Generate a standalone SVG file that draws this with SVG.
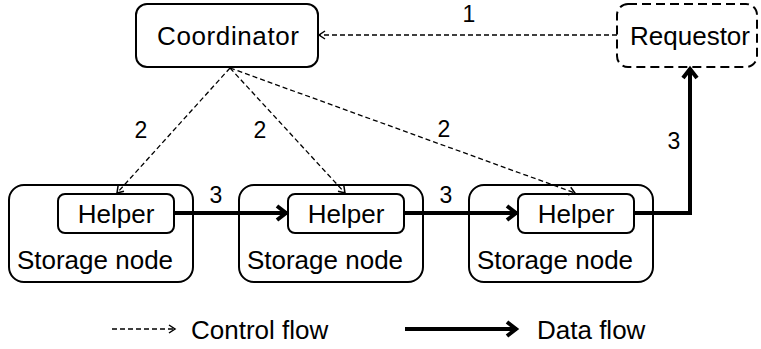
<svg xmlns="http://www.w3.org/2000/svg" width="761" height="349" viewBox="0 0 761 349">
<style>
text{font-family:"Liberation Sans",Arial,sans-serif;fill:#000}
.big{font-size:26px}
.num{font-size:23px}
.box{fill:#fff;stroke:#000;stroke-width:2}
.ctl{fill:none;stroke:#000;stroke-width:1.3;stroke-dasharray:5 3}
.dat{fill:none;stroke:#000;stroke-width:4}
</style>
<defs>
<marker id="ah-c" markerWidth="10" markerHeight="10" refX="8" refY="5" orient="auto" markerUnits="userSpaceOnUse">
<path d="M2,1 L8,5 L2,9" fill="none" stroke="#000" stroke-width="1.5"/>
</marker>
<marker id="ah-d" markerWidth="20" markerHeight="20" refX="14" refY="10" orient="auto" markerUnits="userSpaceOnUse">
<path d="M4,3 L13,10 L4,17" fill="none" stroke="#000" stroke-width="4"/>
</marker>
</defs>
<g id="coordinator">
<rect class="box" x="136" y="4" width="182" height="63" rx="11"/>
<text class="big" x="157" y="45" textLength="142" lengthAdjust="spacing">Coordinator</text>
</g>
<g id="requestor">
<rect x="617" y="4" width="140" height="63" rx="11" fill="#fff" stroke="#000" stroke-width="2" stroke-dasharray="9 5"/>
<text class="big" x="690" y="45" text-anchor="middle">Requestor</text>
</g>
<g id="storage1">
<rect class="box" x="9" y="185" width="184" height="97" rx="15"/>
<text class="big" x="95" y="269" text-anchor="middle">Storage node</text>
</g>
<g id="helper1">
<rect class="box" x="58" y="194" width="116" height="39" rx="7"/>
<text class="big" x="116" y="223" text-anchor="middle">Helper</text>
</g>
<g id="storage2">
<rect class="box" x="239" y="185" width="184" height="97" rx="15"/>
<text class="big" x="325" y="269" text-anchor="middle">Storage node</text>
</g>
<g id="helper2">
<rect class="box" x="288" y="194" width="116" height="39" rx="7"/>
<text class="big" x="346" y="223" text-anchor="middle">Helper</text>
</g>
<g id="storage3">
<rect class="box" x="469" y="185" width="184" height="97" rx="15"/>
<text class="big" x="555" y="269" text-anchor="middle">Storage node</text>
</g>
<g id="helper3">
<rect class="box" x="518" y="194" width="116" height="39" rx="7"/>
<text class="big" x="576" y="223" text-anchor="middle">Helper</text>
</g>
<g id="connectors">
<line class="ctl" x1="617" y1="35" x2="319" y2="35" marker-end="url(#ah-c)"/>
<text class="num" x="469" y="22" text-anchor="middle">1</text>
<line class="ctl" x1="230" y1="68" x2="117" y2="193" marker-end="url(#ah-c)"/>
<line class="ctl" x1="230" y1="68" x2="345" y2="193" marker-end="url(#ah-c)"/>
<line class="ctl" x1="230" y1="68" x2="575" y2="193" marker-end="url(#ah-c)"/>
<text class="num" x="141" y="138" text-anchor="middle">2</text>
<text class="num" x="260" y="138" text-anchor="middle">2</text>
<text class="num" x="444" y="137" text-anchor="middle">2</text>
<line class="dat" x1="174" y1="213" x2="287" y2="213" marker-end="url(#ah-d)"/>
<line class="dat" x1="404" y1="213" x2="517" y2="213" marker-end="url(#ah-d)"/>
<text class="num" x="216" y="203" text-anchor="middle">3</text>
<text class="num" x="446" y="203" text-anchor="middle">3</text>
<polyline class="dat" points="634,213 690,213 690,68" marker-end="url(#ah-d)"/>
<text class="num" x="674" y="149" text-anchor="middle">3</text>
</g>
<g id="legend">
<line class="ctl" x1="112" y1="329" x2="175" y2="329" marker-end="url(#ah-c)"/>
<text class="big" x="191" y="339">Control flow</text>
<line class="dat" x1="405" y1="329" x2="517" y2="329" marker-end="url(#ah-d)"/>
<text class="big" x="537" y="339">Data flow</text>
</g>
</svg>
